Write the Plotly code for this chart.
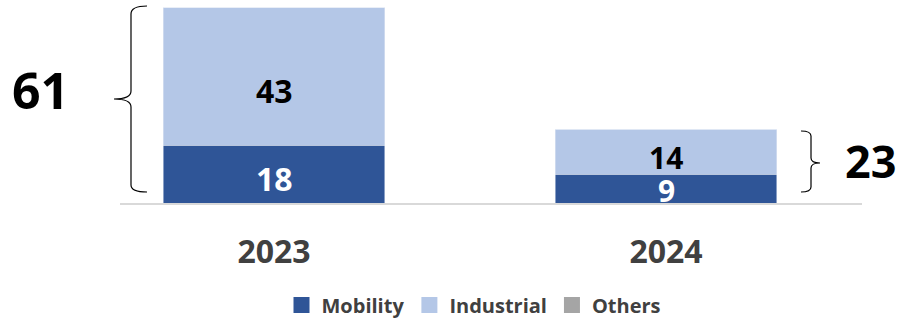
import plotly.graph_objects as go

years = ["2023", "2024"]
mobility = [18, 9]
industrial = [43, 14]
others = [0, 0]
totals = [61, 23]

C_MOB = "#2F5597"
C_IND = "#B4C7E7"
C_OTH = "#A5A5A5"
FONT = "Open Sans"

W, H = 901, 321
L, R, T, B = 120, 39, 5, 118
PW, PH = W - L - R, H - T - B


def px(x, y):
    return (x - L) / PW, (H - B - y) / PH


def path(points):
    out = []
    for cmd, *pts in points:
        coords = []
        for i in range(0, len(pts), 2):
            a, b = px(pts[i], pts[i + 1])
            coords.append(f"{a:.5f},{b:.5f}")
        out.append(cmd + " " + " ".join(coords))
    return " ".join(out)


series = [("Mobility", mobility, C_MOB), ("Industrial", industrial, C_IND), ("Others", others, C_OTH)]

fig = go.Figure()
for name, vals, col in series:
    fig.add_bar(x=years, y=vals, name=name, marker_color=col, width=0.566,
                showlegend=False, legendgroup=name)
# legend entries with larger square swatches
for name, vals, col in series:
    fig.add_scatter(x=[None], y=[None], mode="markers", name=f"<b>{name}</b>",
                    legendgroup=name,
                    marker=dict(symbol="square", size=16, color=col))

# segment labels
mob_shift = [-4, -2]
ind_shift = [-14, -6]
lab_size = [32, 30]
for i, yr in enumerate(years):
    fig.add_annotation(x=i, y=mobility[i] / 2, text=f"<b>{mobility[i]}</b>", showarrow=False,
                       xanchor="center", yanchor="middle", yshift=mob_shift[i],
                       font=dict(family=FONT, size=lab_size[i], color="white"))
    fig.add_annotation(x=i, y=mobility[i] + industrial[i] / 2, text=f"<b>{industrial[i]}</b>",
                       showarrow=False, xanchor="center", yanchor="middle", yshift=ind_shift[i],
                       font=dict(family=FONT, size=lab_size[i], color="black"))

# totals
lx, ly = px(40, 90)
fig.add_annotation(xref="paper", yref="paper", x=lx, y=ly, text=f"<b>{totals[0]}</b>",
                   showarrow=False, xanchor="center", yanchor="middle",
                   font=dict(family=FONT, size=50, color="black"))
rx, ry = px(870, 160)
fig.add_annotation(xref="paper", yref="paper", x=rx, y=ry, text=f"<b>{totals[1]}</b>",
                   showarrow=False, xanchor="center", yanchor="middle",
                   font=dict(family=FONT, size=45, color="black"))

# braces
left_brace = path([
    ("M", 147, 6), ("Q", 131, 6, 131, 14), ("L", 131, 91), ("Q", 131, 99, 114, 99),
    ("Q", 131, 99, 131, 107), ("L", 131, 185), ("Q", 131, 192, 147, 192),
])
right_brace = path([
    ("M", 801, 131), ("Q", 811, 131, 811, 136), ("L", 811, 158), ("Q", 811, 163, 820, 163),
    ("Q", 811, 163, 811, 168), ("L", 811, 187), ("Q", 811, 192, 801, 192),
])
for p in (left_brace, right_brace):
    fig.add_shape(type="path", path=p, xref="paper", yref="paper",
                  line=dict(color="black", width=1.2))

fig.update_layout(
    width=W, height=H,
    margin=dict(l=L, r=R, t=T, b=B, autoexpand=False),
    barmode="stack",
    plot_bgcolor="white", paper_bgcolor="white",
    showlegend=True,
    legend=dict(orientation="h", xref="container", yref="container",
                x=474 / W, y=(H - 305) / H, xanchor="center", yanchor="middle",
                font=dict(family=FONT, size=20, color="#404040"),
                itemclick=False, traceorder="normal", itemwidth=30),
    xaxis=dict(type="category", range=[-0.393, 1.5], showgrid=False, zeroline=False,
               showline=True, linecolor="#D9D9D9", linewidth=1.5, ticks="",
               tickfont=dict(family=FONT, size=32, color="#404040"),
               ticklabelstandoff=20,
               tickvals=years, ticktext=[f"<b>{y}</b>" for y in years]),
    yaxis=dict(range=[0, PH / 3.197], visible=False),
)

fig.write_html("out.html")
